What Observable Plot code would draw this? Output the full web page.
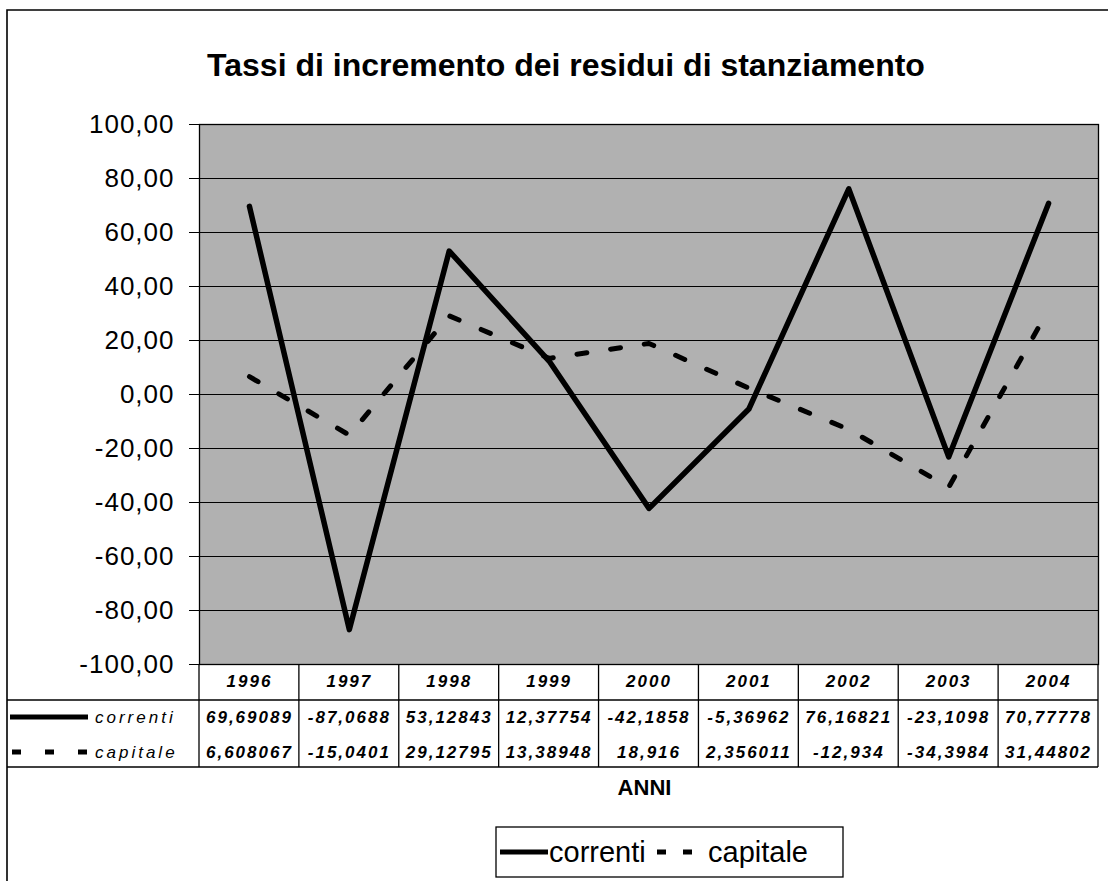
<!DOCTYPE html>
<html>
<head>
<meta charset="utf-8">
<script src="https://cdn.jsdelivr.net/npm/d3@7"></script>
<script src="https://cdn.jsdelivr.net/npm/@observablehq/plot@0.6"></script>
<style>
  html, body { margin: 0; padding: 0; background: #fff; }
  #chart svg { display: block; }
</style>
</head>
<body>
<div id="chart"></div>
<script>
// ---- data ----
const years = ["1996", "1997", "1998", "1999", "2000", "2001", "2002", "2003", "2004"];
const correnti = [69.69089, -87.0688, 53.12843, 12.37754, -42.1858, -5.36962, 76.16821, -23.1098, 70.77778];
const capitale = [6.608067, -15.0401, 29.12795, 13.38948, 18.916, 2.356011, -12.934, -34.3984, 31.44802];
const seriesNames = ["correnti", "capitale"];
const yTicks = [100, 80, 60, 40, 20, 0, -20, -40, -60, -80, -100];
const titleText = "Tassi di incremento dei residui di stanziamento";
const xLabel = "ANNI";

// ---- formatting ----
const itLocale = d3.formatLocale({decimal: ",", thousands: ".", grouping: [3], currency: ["", " €"], minus: "-"});
const fmtTick = itLocale.format(".2f");
const fmtCell = v => String(v).replace(".", ",");

const rows = years.map((year, i) => ({i, year, correnti: correnti[i], capitale: capitale[i]}));

const FONT = "'Liberation Sans', Arial, Helvetica, sans-serif";
const DASH = "10,24";
const KEY_DASH = "9,24";

function decor(...args) {
  const dim = args.find(a => a && typeof a === "object" && "marginLeft" in a && "width" in a);
  const sc = args.find(a => a && typeof a === "object" && typeof a.x === "function");
  const left = dim.marginLeft, right = dim.width - dim.marginRight;
  const bottom = dim.height - dim.marginBottom;
  const n = years.length;
  const x = sc ? sc.x : (v => left + (v + 0.5) * (right - left) / n);
  const edge = 7, top = 10;
  const r1 = bottom + 36, r3 = bottom + 103;
  const g = d3.create("svg:g").attr("text-anchor", "start");

  // outer chart border (left and top)
  g.append("path").attr("d", `M${edge},${dim.height}V${top}H${dim.width}`)
    .attr("fill", "none").attr("stroke", "#000").attr("stroke-width", 1.6);

  // data table grid
  const lines = g.append("g").attr("stroke", "#000").attr("stroke-width", 1.3);
  lines.append("line").attr("x1", edge).attr("x2", right).attr("y1", r1).attr("y2", r1);
  lines.append("line").attr("x1", edge).attr("x2", right).attr("y1", r3).attr("y2", r3);
  for (let k = 0; k <= n; ++k) {
    const xx = x(k - 0.5);
    lines.append("line").attr("x1", xx).attr("x2", xx).attr("y1", bottom).attr("y2", r3);
  }

  // keys in the table
  const keyY = [bottom + 53, bottom + 88];
  g.append("line").attr("x1", 10).attr("x2", 88).attr("y1", keyY[0]).attr("y2", keyY[0])
    .attr("stroke", "#000").attr("stroke-width", 5);
  g.append("line").attr("x1", 12).attr("x2", 88).attr("y1", keyY[1]).attr("y2", keyY[1])
    .attr("stroke", "#000").attr("stroke-width", 5).attr("stroke-dasharray", KEY_DASH);
  seriesNames.forEach((s, j) => {
    g.append("text").attr("x", 95).attr("y", keyY[j]).attr("dy", "0.35em")
      .attr("text-anchor", "start").attr("font-style", "italic").attr("font-size", 17)
      .attr("letter-spacing", "3px").attr("fill", "#000").text(s);
  });

  // title
  g.append("text").attr("x", 566).attr("y", 76).attr("text-anchor", "middle")
    .attr("font-size", 32).attr("font-weight", "bold").attr("fill", "#000").text(titleText);

  // x label
  g.append("text").attr("x", (left + right) / 2 - 4).attr("y", 795).attr("text-anchor", "middle")
    .attr("font-size", 22).attr("font-weight", "bold").attr("fill", "#000").text(xLabel);

  // legend
  const lg = g.append("g").attr("text-anchor", "start");
  lg.append("rect").attr("x", 496).attr("y", 827).attr("width", 347).attr("height", 50)
    .attr("fill", "#fff").attr("stroke", "#000").attr("stroke-width", 1.3);
  lg.append("line").attr("x1", 500).attr("x2", 548).attr("y1", 852).attr("y2", 852)
    .attr("stroke", "#000").attr("stroke-width", 5);
  lg.append("text").attr("x", 549).attr("y", 852).attr("dy", "0.35em").attr("font-size", 29)
    .attr("fill", "#000").text(seriesNames[0]);
  lg.append("line").attr("x1", 657).attr("x2", 705).attr("y1", 852).attr("y2", 852)
    .attr("stroke", "#000").attr("stroke-width", 5).attr("stroke-dasharray", "9,17");
  lg.append("text").attr("x", 708).attr("y", 852).attr("dy", "0.35em").attr("font-size", 29)
    .attr("fill", "#000").text(seriesNames[1]);
  return g.node();
}

const tableText = {x: "i", frameAnchor: "bottom", lineAnchor: "middle", fontSize: 17,
  fontWeight: "bold", fontStyle: "italic", fill: "#000"};

const chart = Plot.plot({
  width: 1108,
  height: 881,
  marginTop: 124,
  marginRight: 10,
  marginBottom: 217,
  marginLeft: 199,
  style: {fontFamily: FONT, background: "#fff", color: "#000", overflow: "visible"},
  x: {type: "linear", domain: [-0.5, years.length - 0.5], axis: null},
  y: {domain: [-100, 100], axis: null},
  marks: [
    Plot.frame({fill: "#b1b1b1", stroke: null}),
    Plot.ruleY(yTicks, {stroke: "#000", strokeWidth: 1}),
    Plot.frame({stroke: "#000", strokeWidth: 1.3}),
    Plot.line(rows, {x: "i", y: "capitale", stroke: "#000", strokeWidth: 5, strokeDasharray: DASH}),
    Plot.line(rows, {x: "i", y: "correnti", stroke: "#000", strokeWidth: 5.5, strokeLinejoin: "round"}),
    Plot.axisY(yTicks, {tickFormat: fmtTick, tickSize: 10, tickPadding: 15, fontSize: 26, stroke: "#000", fill: "#000"}),
    Plot.text(rows, {...tableText, text: "year", dy: 17}),
    Plot.text(rows, {...tableText, text: d => fmtCell(d.correnti), dy: 53}),
    Plot.text(rows, {...tableText, text: d => fmtCell(d.capitale), dy: 88}),
    decor
  ]
});
// spacing of the letters, as in the scanned table and axis
d3.select(chart).selectAll('g[aria-label="text"] text').attr("letter-spacing", "2px");
d3.select(chart).selectAll('g[aria-label="y-axis tick label"] text').attr("letter-spacing", "1px");
document.getElementById("chart").append(chart);
</script>
</body>
</html>
